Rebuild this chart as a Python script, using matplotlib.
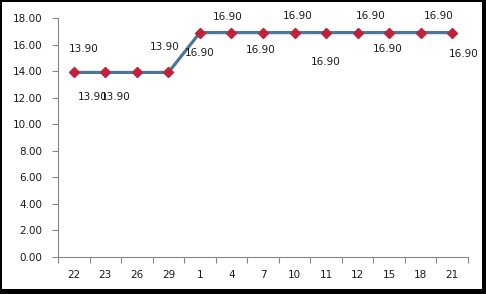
import matplotlib
matplotlib.use("Agg")
import matplotlib.pyplot as plt
from matplotlib.patches import Rectangle

categories = ["22", "23", "26", "29", "1", "4", "7", "10", "11", "12", "15", "18", "21"]
values = [13.90, 13.90, 13.90, 13.90, 16.90, 16.90, 16.90, 16.90, 16.90, 16.90, 16.90, 16.90, 16.90]
yticks = [0, 2, 4, 6, 8, 10, 12, 14, 16, 18]
# label offsets in pixels (dx, dy) relative to each marker
label_offsets = [(10, 23), (-13, -25), (-21, -25), (-4, 25), (0, -20), (-4, 16),
                 (-2, -17), (3, 17), (0, -29), (13, 17), (-1, -16), (18, 17), (11, -21)]

W, H, DPI = 486, 294, 100
fig = plt.figure(figsize=(W / DPI, H / DPI), dpi=DPI)
fig.patch.set_facecolor("black")
fig.patches.append(Rectangle((2 / W, 5 / H), 480 / W, 287 / H, transform=fig.transFigure,
                             facecolor="white", edgecolor="none", zorder=0))

ax = fig.add_axes([58 / W, 1 - 257 / H, (468 - 58) / W, (257 - 18) / H])
ax.set_zorder(5)
ax.patch.set_alpha(0)

x = list(range(len(categories)))
ax.plot(x, values, color="#4D7698", linewidth=2.3, zorder=2)
ax.plot(x, values, linestyle="none", marker="D", markersize=5.2,
        markerfacecolor="#C0223B", markeredgecolor="#C0223B", zorder=3)

for xi, v, (dx, dy) in zip(x, values, label_offsets):
    ax.annotate(f"{v:.2f}", (xi, v), xytext=(dx, dy), textcoords="offset pixels",
                ha="center", va="center", fontsize=7.5, color="#1a1a1a", zorder=4)

ax.set_xlim(-0.5, len(categories) - 0.5)
ax.set_ylim(0, 18)
ax.set_yticks(yticks)
ax.set_yticklabels([f"{t:.2f}" for t in yticks])
ax.set_xticks([i + 0.5 for i in range(-1, len(categories))], minor=False)
ax.set_xticklabels([""] * (len(categories) + 1))
ax.set_xticks(x, minor=True)
ax.set_xticklabels(categories, minor=True)

ax.tick_params(axis="x", which="major", length=4, color="#868686", direction="out")
ax.tick_params(axis="x", which="minor", length=0, pad=9, labelsize=7.5, labelcolor="#1a1a1a")
ax.tick_params(axis="y", length=4, color="#868686", direction="out", pad=7,
               labelsize=7.5, labelcolor="#1a1a1a")

for s in ["top", "right"]:
    ax.spines[s].set_visible(False)
for s in ["left", "bottom"]:
    ax.spines[s].set_color("#868686")
    ax.spines[s].set_linewidth(0.8)

fig.savefig("out.png", dpi=DPI, facecolor=fig.get_facecolor())
